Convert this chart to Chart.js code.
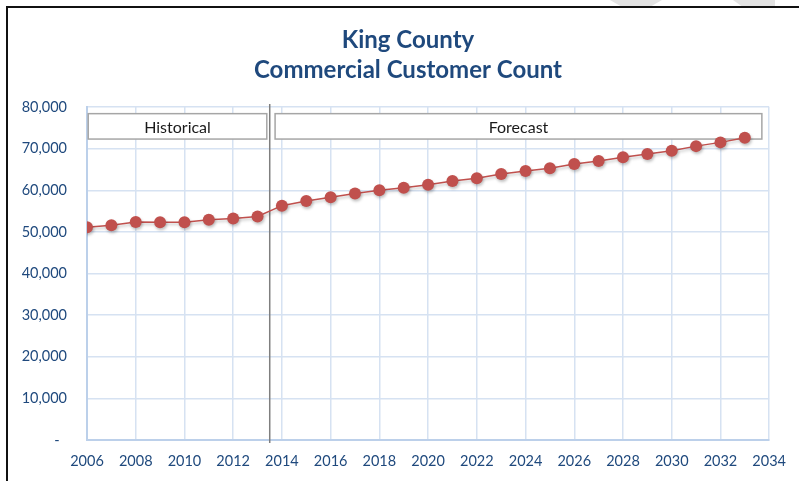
<!DOCTYPE html>
<html>
<head>
<meta charset="utf-8">
<script src="https://cdn.jsdelivr.net/npm/chart.js@4/dist/chart.umd.min.js"></script>
<style>
  html,body{margin:0;padding:0;background:#fff;width:799px;height:481px;overflow:hidden;position:relative;}
  #frame{position:absolute;left:6px;top:6px;right:-10px;bottom:-10px;border-left:2px solid #111;border-top:2px solid #111;}
  .wm{position:absolute;top:0;height:6px;background:#e3e3e3;}
  #wrap{position:absolute;left:9px;top:9px;width:790px;height:472px;}
</style>
</head>
<body>
<div class="wm" style="left:610px;width:52px;clip-path:polygon(0 0,100% 0,80% 100%,20% 100%);"></div>
<div class="wm" style="left:733px;width:42px;clip-path:polygon(0 0,100% 0,100% 100%,20% 100%);"></div>
<div id="frame"></div>
<div id="wrap"><canvas id="c" width="790" height="472"></canvas></div>
<script>
const titleLines = ["King County", "Commercial Customer Count"];
const years = [2006,2007,2008,2009,2010,2011,2012,2013,2014,2015,2016,2017,2018,2019,2020,2021,2022,2023,2024,2025,2026,2027,2028,2029,2030,2031,2032,2033];
const customers = [51100,51600,52400,52300,52300,52900,53200,53700,56300,57400,58300,59200,60000,60600,61300,62200,62900,63900,64600,65300,66300,67000,67900,68700,69500,70600,71500,72600];
const xTicks = [2006,2008,2010,2012,2014,2016,2018,2020,2022,2024,2026,2028,2030,2032,2034];
const yTicks = [0,10000,20000,30000,40000,50000,60000,70000,80000];
const dividerYear = 2013.5;
const periodLabels = ["Historical", "Forecast"];
const periodRanges = [[2006.05, 2013.38], [2013.72, 2033.7]];
const labelBand = [72300, 78400];

const blue = '#1F497D';
const gridBlue = '#D6E2F2';
const axisBlue = '#BCD0EA';
const red = '#C0504D';

const titleDraw = {
  id: 'titleDraw',
  afterDraw(chart) {
    const ctx = chart.ctx;
    ctx.save();
    ctx.fillStyle = blue;
    ctx.font = 'bold 24px Lato';
    ctx.textAlign = 'center';
    ctx.textBaseline = 'middle';
    titleLines.forEach((t, i) => ctx.fillText(t, chart.width / 2 + 4, 31 + i * 30));
    ctx.restore();
  }
};

const annot = {
  id: 'annot',
  beforeDatasetsDraw(chart) {
    const {ctx, scales:{x, y}} = chart;
    ctx.save();
    periodLabels.forEach((lab, i) => {
      const x0 = x.getPixelForValue(periodRanges[i][0]);
      const x1 = x.getPixelForValue(periodRanges[i][1]);
      const y0 = y.getPixelForValue(labelBand[1]);
      const y1 = y.getPixelForValue(labelBand[0]);
      ctx.fillStyle = '#fff';
      ctx.fillRect(x0, y0, x1 - x0, y1 - y0);
      ctx.strokeStyle = '#A6A6A6';
      ctx.lineWidth = 1.5;
      ctx.strokeRect(x0, y0, x1 - x0, y1 - y0);
      ctx.fillStyle = '#1a1a1a';
      ctx.font = '16px Lato';
      ctx.textAlign = 'center';
      ctx.textBaseline = 'middle';
      ctx.fillText(lab, (x0 + x1) / 2, (y0 + y1) / 2 + 1);
    });
    const dx = x.getPixelForValue(dividerYear);
    ctx.strokeStyle = '#7F7F7F';
    ctx.lineWidth = 1.5;
    ctx.beginPath();
    ctx.moveTo(dx, chart.chartArea.top - 3);
    ctx.lineTo(dx, chart.chartArea.bottom + 3);
    ctx.stroke();
    ctx.restore();
  }
};

const shadow = {
  id: 'shadow',
  beforeDatasetDraw(chart) {
    const ctx = chart.ctx;
    ctx.save();
    ctx.shadowColor = 'rgba(0,0,0,0.25)';
    ctx.shadowBlur = 3;
    ctx.shadowOffsetX = 1;
    ctx.shadowOffsetY = 2;
  },
  afterDatasetDraw(chart) { chart.ctx.restore(); }
};

new Chart(document.getElementById('c'), {
  type: 'line',
  data: {
    datasets: [{
      data: years.map((yr, i) => ({x: yr, y: customers[i]})),
      borderColor: red,
      backgroundColor: red,
      borderWidth: 1.5,
      pointRadius: 6,
      pointBackgroundColor: red,
      pointBorderColor: red,
      pointBorderWidth: 0,
      tension: 0
    }]
  },
  options: {
    responsive: false,
    animation: false,
    devicePixelRatio: 1,
    layout: { padding: { left: 0, right: 29, top: 98, bottom: 0 } },
    plugins: {
      legend: { display: false },
      tooltip: { enabled: false },
      title: { display: false }
    },
    scales: {
      x: {
        type: 'linear',
        min: 2006, max: 2034,
        afterBuildTicks(s) { s.ticks = xTicks.map(v => ({value: v})); },
        afterFit(s) { s.height = 41; },
        ticks: {
          color: blue,
          font: { family: 'Lato', size: 14.5 },
          padding: 13,
          maxRotation: 0,
          callback: v => String(v)
        },
        grid: { color: gridBlue, lineWidth: 1.5, drawTicks: false },
        border: { color: axisBlue, width: 2 }
      },
      y: {
        min: 0, max: 80000,
        afterBuildTicks(s) { s.ticks = yTicks.map(v => ({value: v})); },
        afterFit(s) { s.width = 78; },
        ticks: {
          color: blue,
          font: { family: 'Lato', size: 14.5 },
          padding: 20,
          callback: v => v === 0 ? '-  ' : v.toLocaleString('en-US')
        },
        grid: { color: gridBlue, lineWidth: 1.5, drawTicks: false },
        border: { color: axisBlue, width: 2 }
      }
    }
  },
  plugins: [shadow, annot, titleDraw]
});
</script>
</body>
</html>
